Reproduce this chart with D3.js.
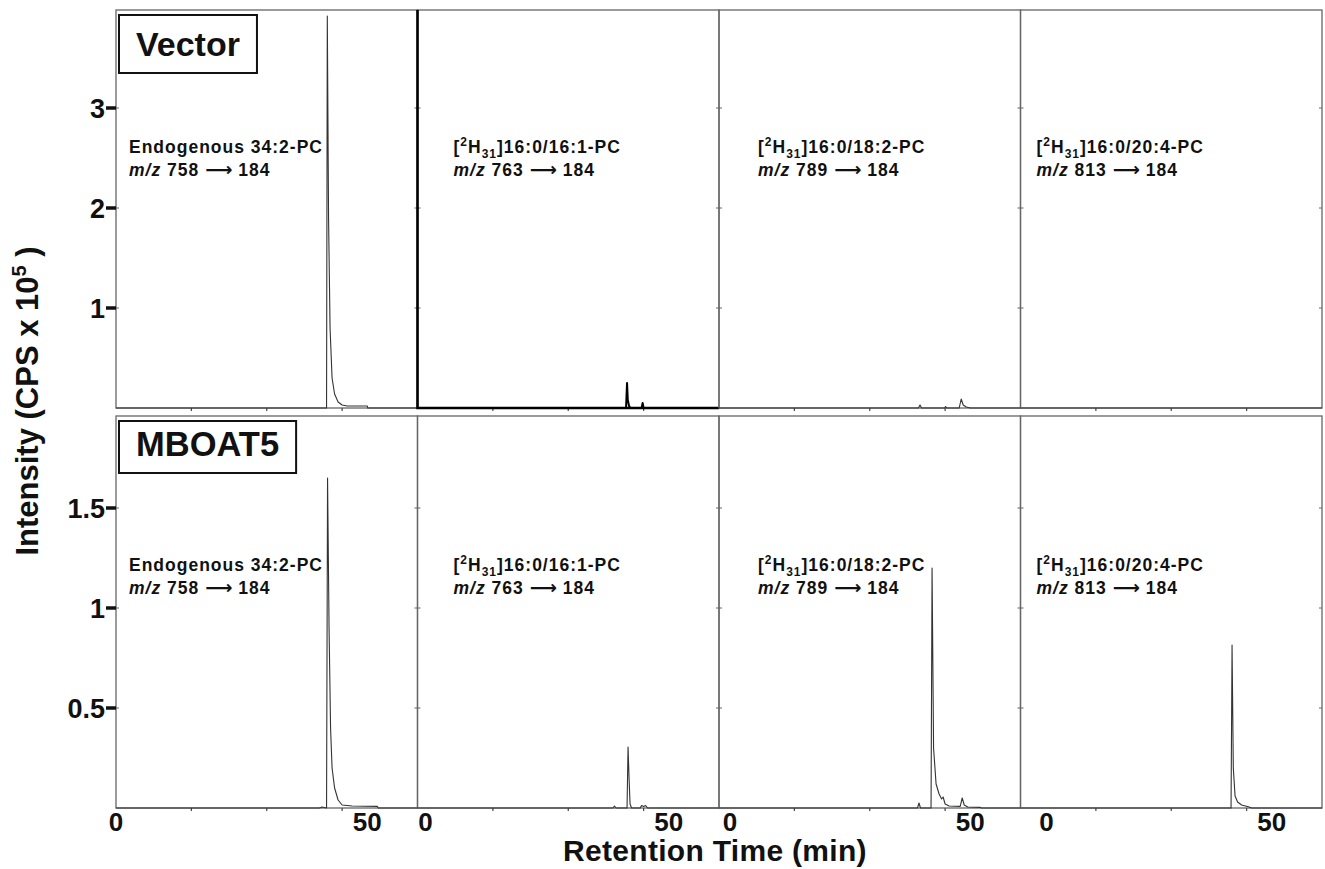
<!DOCTYPE html>
<html>
<head>
<meta charset="utf-8">
<script src="https://cdn.jsdelivr.net/npm/d3@7"></script>
<style>
  body { margin: 0; background: #fff; }
  svg { display: block; }
  text { font-family: "Liberation Sans", Arial, Helvetica, sans-serif; fill: #111; }
</style>
</head>
<body>
<div id="chart"></div>
<script>
// row labels and y axes
const rowNames = ["Vector", "MBOAT5"];
const rowMax = [3.98, 1.96];
const rowTicks = [[1, 2, 3], [0.5, 1, 1.5]];

// x axis (retention time, min)
const xDomain = [0, 60];
const xLabelTicks = [0, 50];
const xMinorTicks = [15, 30, 45];

// one column per monitored species
const speciesLabels = [
  {pre: "Endogenous 34:2-PC", mz: "758"},
  {pre: "16:0/16:1-PC", mz: "763", labelled: true},
  {pre: "16:0/18:2-PC", mz: "789", labelled: true},
  {pre: "16:0/20:4-PC", mz: "813", labelled: true}
];

// chromatograms, [time, intensity x 1e5]
const vector758 = [[0,0],[41.9,0],[42.05,3.92],[42.3,1.9],[42.6,0.8],[43.0,0.3],[43.5,0.14],[44.2,0.06],[45,0.03],[46,0.02],[50,0.02],[50.1,0],[60,0]];
const vector763 = [[0,0],[41.5,0],[41.7,0.25],[41.85,0.08],[42.1,0.02],[42.4,0],[44.6,0],[44.8,0.05],[45.0,0],[60,0]];
const vector789 = [[0,0],[39.7,0],[40.0,0.03],[40.3,0],[44.9,0],[45.1,0.015],[45.3,0],[47.8,0],[48.2,0.09],[48.6,0.03],[49.2,0.01],[50,0],[60,0]];
const vector813 = [[0,0],[60,0]];

const mboat758 = [[0,0],[40.5,0],[41,0.005],[41.9,0],[42.1,1.65],[42.4,0.9],[42.7,0.4],[43.0,0.2],[43.5,0.1],[44.2,0.04],[45,0.015],[47,0.01],[52,0.008],[52.2,0],[60,0]];
const mboat763 = [[0,0],[38.9,0],[39.2,0.01],[39.5,0],[41.7,0],[41.9,0.305],[42.1,0.15],[42.3,0.02],[42.6,0],[44.3,0],[44.6,0.012],[45,0.008],[45.4,0.012],[45.8,0],[60,0]];
const mboat789 = [[0,0],[39.5,0],[39.8,0.025],[40.1,0],[42.2,0],[42.4,1.2],[42.7,0.3],[43.2,0.12],[43.8,0.07],[44.3,0.045],[44.6,0.055],[45,0.02],[45.8,0.01],[48.0,0.008],[48.4,0.05],[48.8,0.015],[49.5,0.005],[52,0.003],[52.2,0],[60,0]];
const mboat813 = [[0,0],[41.9,0],[42.1,0.815],[42.35,0.2],[42.7,0.06],[43.2,0.03],[44,0.015],[45.5,0.005],[46,0],[60,0]];

const traces = [
  [vector758, vector763, vector789, vector813],
  [mboat758, mboat763, mboat789, mboat813]
];

// layout
const W = 1325, H = 869;
const left = 116, panelW = 301.5;
const rowTop = [10, 416], rowBottom = [408, 808];
const zeroShift = [0, 8, 11, 26];   // "0" labels sit off the panel joins
const frame = "#666";

const svg = d3.select("#chart").append("svg")
  .attr("width", W)
  .attr("height", H);

const x = d3.scaleLinear().domain(xDomain).range([0, panelW]);

function addArrowLine(sel, mz) {
  sel.append("tspan").style("font-style", "italic").text("m/z");
  sel.append("tspan").text(" " + mz + " ");
  sel.append("tspan")
    .style("font-family", "'DejaVu Sans', sans-serif")
    .style("font-size", "19px")
    .style("letter-spacing", "0px")
    .text("\u27F6");
  sel.append("tspan").text(" 184");
}

rowNames.forEach(function(name, r) {
  const y = d3.scaleLinear().domain([0, rowMax[r]]).range([rowBottom[r], rowTop[r]]);

  speciesLabels.forEach(function(sp, c) {
    const x0 = left + c * panelW;
    const g = svg.append("g").attr("transform", "translate(" + x0 + ",0)");
    const heavy = (r === 0 && c === 1);

    // panel frame
    g.append("rect")
      .attr("x", 0).attr("y", rowTop[r])
      .attr("width", panelW).attr("height", rowBottom[r] - rowTop[r])
      .attr("fill", "none").attr("stroke", frame).attr("stroke-width", 1.3);

    // small inside ticks on both edges
    rowTicks[r].forEach(function(t) {
      g.append("line").attr("x1", 0).attr("x2", 3).attr("y1", y(t)).attr("y2", y(t))
        .attr("stroke", frame).attr("stroke-width", 1);
      g.append("line").attr("x1", panelW - 3).attr("x2", panelW).attr("y1", y(t)).attr("y2", y(t))
        .attr("stroke", frame).attr("stroke-width", 1);
    });

    // x minor ticks
    xMinorTicks.forEach(function(t) {
      g.append("line").attr("x1", x(t)).attr("x2", x(t))
        .attr("y1", rowBottom[r]).attr("y2", rowBottom[r] + 3)
        .attr("stroke", "#444").attr("stroke-width", 1.2);
    });

    if (heavy) {
      g.append("path")
        .attr("d", "M0," + rowTop[r] + "V" + rowBottom[r] + "H" + panelW)
        .attr("fill", "none").attr("stroke", "#000").attr("stroke-width", 2.6);
    }

    // trace
    const line = d3.line()
      .x(function(d) { return x(d[0]); })
      .y(function(d) { return y(d[1]); });
    g.append("path")
      .datum(traces[r][c])
      .attr("d", line)
      .attr("fill", "none")
      .attr("stroke", heavy ? "#000" : "#333")
      .attr("stroke-width", heavy ? 2 : 1.1)
      .attr("stroke-linejoin", "round");

    // species annotation
    const tx = [13, 36, 39, 16][c];
    const by = r === 0 ? 153 : 571;
    const t1 = g.append("text")
      .attr("x", tx).attr("y", by)
      .style("font-size", "17.5px").style("font-weight", "bold")
      .style("letter-spacing", "1px");
    if (sp.labelled) {
      t1.append("tspan").text("[");
      t1.append("tspan").attr("dy", -7).style("font-size", "12px").text("2");
      t1.append("tspan").attr("dy", 7).text("H");
      t1.append("tspan").attr("dy", 5).style("font-size", "12px").text("31");
      t1.append("tspan").attr("dy", -5).text("]" + sp.pre);
    } else {
      t1.text(sp.pre);
    }
    const t2 = g.append("text")
      .attr("x", tx).attr("y", by + 23)
      .style("font-size", "17.5px").style("font-weight", "bold")
      .style("letter-spacing", "1px");
    addArrowLine(t2, sp.mz);

    // x tick labels on the bottom row only
    if (r === 1) {
      xLabelTicks.forEach(function(t) {
        g.append("text")
          .attr("x", x(t) + (t === 0 ? zeroShift[c] : 0))
          .attr("y", 831)
          .attr("text-anchor", "middle")
          .style("font-size", "26px").style("font-weight", "bold")
          .text(t);
      });
    }
  });

  // left y axis: bold outer ticks and labels
  rowTicks[r].forEach(function(t) {
    svg.append("line")
      .attr("x1", left - 10).attr("x2", left).attr("y1", y(t)).attr("y2", y(t))
      .attr("stroke", "#111").attr("stroke-width", 3.5);
    svg.append("text")
      .attr("x", left - 11).attr("y", y(t)).attr("dy", "0.36em")
      .attr("text-anchor", "end")
      .style("font-size", "27px").style("font-weight", "bold")
      .text(t);
  });

  // row name box
  const boxG = svg.append("g");
  const nameText = boxG.append("text")
    .attr("x", 119 + 17).attr("y", r === 0 ? 56 : 456)
    .style("font-size", r === 0 ? "34px" : "34.5px").style("font-weight", "bold")
    .text(name);
  const tw = nameText.node().getComputedTextLength();
  const boxY = r === 0 ? 15 : 421, boxH = r === 0 ? 58 : 52;
  boxG.insert("rect", ":first-child")
    .attr("x", 119).attr("y", boxY)
    .attr("width", tw + 34).attr("height", boxH)
    .attr("fill", "#fff").attr("stroke", "#111").attr("stroke-width", 2);
});

// axis titles
svg.append("text")
  .attr("x", 715).attr("y", 861)
  .attr("text-anchor", "middle")
  .style("font-size", "30px").style("font-weight", "bold")
  .style("letter-spacing", "0.3px")
  .text("Retention Time (min)");

const yTitle = svg.append("text")
  .attr("transform", "translate(38,401) rotate(-90)")
  .attr("text-anchor", "middle")
  .style("font-size", "31px").style("font-weight", "bold");
yTitle.append("tspan").text("Intensity (CPS x 10");
yTitle.append("tspan").attr("dy", -12).style("font-size", "20px").text("5");
yTitle.append("tspan").attr("dy", 12).text(" )");
</script>
</body>
</html>
